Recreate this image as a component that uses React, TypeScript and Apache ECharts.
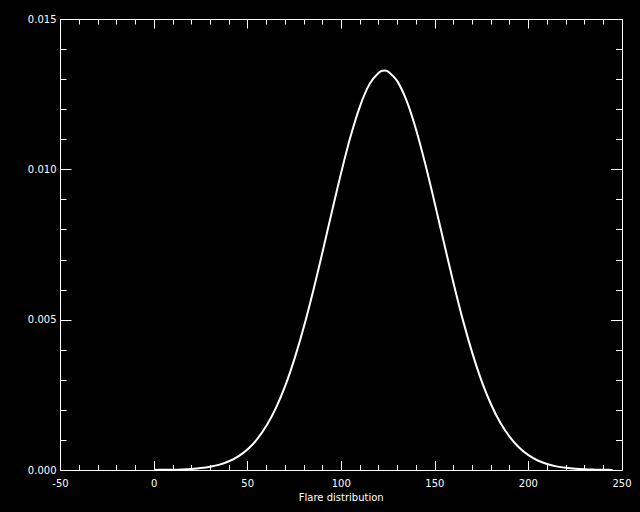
import React, { useEffect, useRef } from "react";
import * as echarts from "echarts";

const xValues = [
  0, 5, 10, 15, 20, 25, 30, 35, 40, 45, 50, 55, 60, 65, 70, 75, 80, 85, 90, 95,
  100, 105, 110, 115, 120, 123, 125, 130, 135, 140, 145, 150, 155, 160, 165, 170,
  175, 180, 185, 190, 195, 200, 205, 210, 215, 220, 225, 230, 235, 240, 245,
];
const yValues = [
  0.000003, 0.000006, 0.000011, 0.00002, 0.000037, 0.000064, 0.000109, 0.00018,
  0.00029, 0.000453, 0.000689, 0.00102, 0.00147, 0.00205, 0.00279, 0.0037,
  0.00476, 0.00596, 0.00726, 0.0086, 0.00991, 0.01111, 0.01211, 0.01284,
  0.01323, 0.0133, 0.01327, 0.01294, 0.01228, 0.01133, 0.01016, 0.00887,
  0.00753, 0.00622, 0.00499, 0.0039, 0.00296, 0.00219, 0.00157, 0.0011,
  0.000747, 0.000493, 0.000317, 0.000198, 0.000121, 0.0000714, 0.0000411,
  0.000023, 0.0000125, 0.0000066, 0.0000034,
];
const xTickLabels = ["-50", "0", "50", "100", "150", "200", "250"];
const yTickLabels = ["0.000", "0.005", "0.010", "0.015"];
const xName = "Flare distribution";

const FONT = "DejaVu Sans";
const WHITE = "#ffffff";

export default function App() {
  const ref = useRef<HTMLDivElement>(null);
  useEffect(() => {
    document.body.style.margin = "0";
    document.body.style.background = "#000";
    const chart = echarts.init(ref.current!, null, { renderer: "svg" });
    const data = xValues.map((x, i) => [x, yValues[i]]);
    const xLabelFmt = (v: number) => {
      const idx = Math.round((v + 50) / 50);
      return xTickLabels[idx] ?? String(v);
    };
    const yLabelFmt = (v: number) => {
      const idx = Math.round(v / 0.005);
      return yTickLabels[idx] ?? String(v);
    };
    const commonX = {
      type: "value" as const,
      min: -50,
      max: 250,
      interval: 50,
      axisLine: { show: true, onZero: false, lineStyle: { color: WHITE, width: 1 } },
      axisTick: { show: true, inside: true, length: 9, lineStyle: { color: WHITE, width: 1 } },
      minorTick: { show: true, splitNumber: 5, length: 5, lineStyle: { color: WHITE, width: 1 } },
      splitLine: { show: false },
    };
    const commonY = {
      type: "value" as const,
      min: 0,
      max: 0.015,
      interval: 0.005,
      axisLine: { show: true, onZero: false, lineStyle: { color: WHITE, width: 1 } },
      axisTick: { show: true, inside: true, length: 11, lineStyle: { color: WHITE, width: 1 } },
      minorTick: { show: true, splitNumber: 5, length: 6, lineStyle: { color: WHITE, width: 1 } },
      splitLine: { show: false },
    };
    chart.setOption({
      animation: false,
      backgroundColor: "#000000",
      grid: { left: 60.5, right: 18, top: 19.5, bottom: 42, containLabel: false },
      xAxis: [
        {
          ...commonX,
          position: "bottom",
          name: xName,
          nameLocation: "middle",
          nameGap: 21,
          nameTextStyle: { color: WHITE, fontFamily: FONT, fontSize: 10, verticalAlign: "top" },
          axisLabel: {
            show: true,
            color: WHITE,
            fontFamily: FONT,
            fontSize: 10,
            margin: 8,
            formatter: xLabelFmt,
          },
        },
        { ...commonX, position: "top", axisLabel: { show: false } },
      ],
      yAxis: [
        {
          ...commonY,
          position: "left",
          axisLabel: {
            show: true,
            color: WHITE,
            fontFamily: FONT,
            fontSize: 10,
            margin: 4,
            formatter: yLabelFmt,
          },
        },
        { ...commonY, position: "right", axisLabel: { show: false } },
      ],
      series: [
        {
          type: "line",
          data,
          xAxisIndex: 0,
          yAxisIndex: 0,
          showSymbol: false,
          smooth: 0.3,
          lineStyle: { color: WHITE, width: 2 },
        },
      ],
    });
    return () => chart.dispose();
  }, []);
  return <div ref={ref} style={{ width: 640, height: 512, background: "#000" }} />;
}
